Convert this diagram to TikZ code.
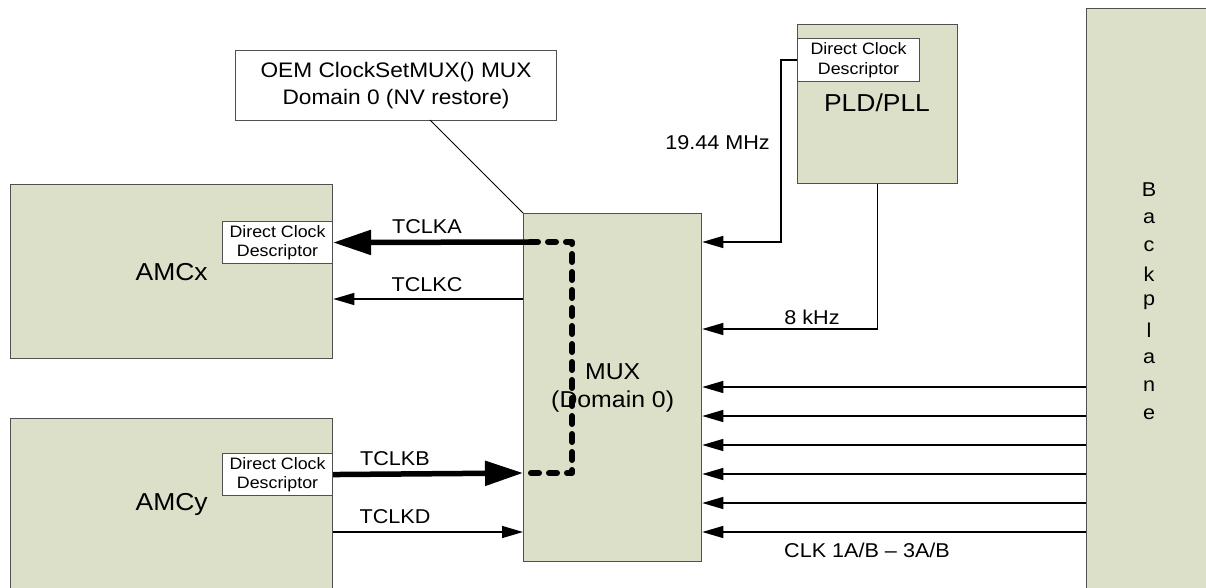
\documentclass[tikz,border=0pt]{standalone}
\usepackage{fontspec}
\setmainfont{Liberation Sans}[FakeStretch=1.08]
\usetikzlibrary{arrows.meta}
\definecolor{boxfill}{HTML}{DDE0C9}
\definecolor{edge}{HTML}{505050}
\newcommand\setfs[2]{\fontsize{#1}{#2}\selectfont}
\tikzset{
  block/.style={draw=edge, line width=1.3pt, fill=boxfill, inner sep=0pt, anchor=north west, align=center},
  descbox/.style={draw=edge, line width=1.1pt, fill=white, inner sep=0pt, anchor=north west,
    align=center, minimum width=110pt, minimum height=42pt, font=\setfs{16.5}{19.5}},
  lbl/.style={inner sep=0pt, font=\setfs{20}{24}},
  thinarrow/.style={line width=1.4pt, -{Triangle[length=21pt,width=12pt]}},
  thickarrow/.style={line width=5.5pt, -{Triangle[length=38pt,width=24pt]}},
  dashpath/.style={line width=6pt, line cap=round, line join=round, dash pattern=on 8pt off 10pt},
}
\begin{document}
\begin{tikzpicture}[x=1pt,y=-1pt]
\clip (0,0) rectangle (1206,588);
\fill[white] (0,0) rectangle (1206,588);

% main blocks
\node[block, minimum width=322pt, minimum height=174pt, font=\setfs{24.5}{28}] (amcx) at (10,184) {AMCx};
\node[block, minimum width=322pt, minimum height=172pt, font=\setfs{24.5}{28}] (amcy) at (10,418) {AMCy};
\node[block, minimum width=178pt, minimum height=348pt, font=\setfs{23}{28}] (mux) at (523,213) {MUX\\(Domain 0)};
\node[block, minimum width=160pt, minimum height=159pt] (pld) at (797,24) {};
\node[inner sep=0pt, font=\setfs{24.5}{28}] (pldtext) at (877,103) {PLD/PLL};
\node[block, minimum width=140pt, minimum height=600pt] (bp) at (1086,8) {};
\foreach \ch [count=\i from 0] in {B,a,c,k,p,l,a,n,e}
  \node[inner sep=0pt, font=\setfs{20}{24}] (bp\i) at (1149,190+28*\i) {\ch};

% descriptor boxes
\node[descbox] (dcdx) at (222,221) {Direct Clock\\Descriptor};
\node[descbox] (dcdy) at (222,453) {Direct Clock\\Descriptor};
\node[descbox, minimum width=122pt, minimum height=43pt] (dcdp) at (797,38) {Direct Clock\\Descriptor};

% callout
\node[draw=edge, line width=1.1pt, fill=white, inner sep=0pt, anchor=north west,
  minimum width=321pt, minimum height=70pt, align=center, font=\setfs{21}{27}]
  (oem) at (235,50) {OEM ClockSetMUX() MUX\\Domain 0 (NV restore)};
\coordinate (oemfoot) at (430,120);
\draw[line width=0.9pt] (oemfoot) -- (mux.north west);

% selected path through the MUX
\coordinate (ka) at (530,242);
\coordinate (kturnA) at (572,242);
\coordinate (kturnB) at (572,473);
\coordinate (kb) at (523,473);
\draw[dashpath] (ka) -- (kturnA) -- (kturnB) -- (kb);

% AMC clocks
\draw[thickarrow] (ka) -- (dcdx.east);
\draw[thickarrow] (dcdy.east) -- (kb);
\coordinate (yC) at (0,299);
\coordinate (yD) at (0,532);
\draw[thinarrow] (mux.west |- yC) -- (amcx.east |- yC);
\draw[thinarrow] (amcy.east |- yD) -- (mux.west |- yD);
\node[lbl] (lka) at (427,227) {TCLKA};
\node[lbl] (lkc) at (427,285) {TCLKC};
\node[lbl] (lkb) at (395,459) {TCLKB};
\node[lbl] (lkd) at (395,517) {TCLKD};

% PLD/PLL clocks
\coordinate (y19) at (0,242);
\coordinate (y8) at (0,329);
\draw[thinarrow] (dcdp.west) -- ++(-16,0) |- (mux.east |- y19);
\draw[thinarrow] (pld.south) |- (mux.east |- y8);
\node[lbl, anchor=east] (l19) at (770,143) {19.44 MHz};
\node[lbl] (l8) at (812,317) {8 kHz};

% backplane clocks
\foreach \y [count=\i] in {387,416,445,474,503,532} {
  \coordinate (r\i) at (0,\y);
  \draw[thinarrow] (bp.west |- r\i) -- (mux.east |- r\i);
}
\node[lbl] (lclk) at (867,550) {CLK 1A/B -- 3A/B};
\end{tikzpicture}
\end{document}
